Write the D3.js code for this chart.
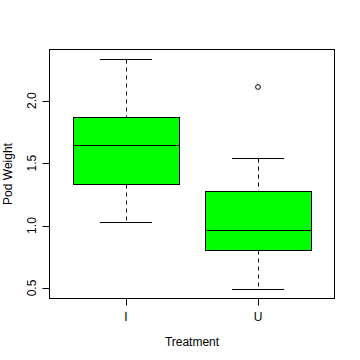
<!DOCTYPE html>
<html><head><meta charset="utf-8">
<script src="https://cdn.jsdelivr.net/npm/d3@7"></script>
<style>body{margin:0;background:#fff}svg{display:block}text{font-family:"Liberation Sans",Arial,sans-serif;font-size:12px;fill:#000}</style>
</head><body>
<script>
const categories = ["I", "U"];
const lowerWhisker = [1.026, 0.490];
const q1 = [1.329, 0.802];
const median = [1.641, 0.962];
const q3 = [1.872, 1.273];
const upperWhisker = [2.335, 1.537];
const outliers = [[], [2.109]];
const yTicks = [0.5, 1.0, 1.5, 2.0];
const yTickLabels = ["0.5", "1.0", "1.5", "2.0"];

const W = 360, H = 360;
const L = 49.5, R = 334.5, T = 49.5, B = 298.5;
const svg = d3.select("body").append("svg").attr("width", W).attr("height", H);

const x = d3.scaleLinear().domain([0.42, 2.58]).range([L, R]);
const y = d3.scaleLinear().domain([0.416, 2.409]).range([B, T]);

const g = svg.append("g");
categories.forEach((c, i) => {
  const cx = x(i + 1);
  const bl = x(i + 1 - 0.4), br = x(i + 1 + 0.4);
  const wl = x(i + 1 - 0.2), wr = x(i + 1 + 0.2);
  const r = v => Math.round(y(v)) + 0.5;
  const cxr = Math.round(cx) + 0.5;
  // whiskers dashed
  g.append("line").attr("x1", cxr).attr("x2", cxr).attr("y1", r(upperWhisker[i])).attr("y2", r(q3[i]))
    .attr("stroke", "#000").attr("stroke-dasharray", "4,4");
  g.append("line").attr("x1", cxr).attr("x2", cxr).attr("y1", r(q1[i])).attr("y2", r(lowerWhisker[i]))
    .attr("stroke", "#000").attr("stroke-dasharray", "4,4");
  // caps
  [upperWhisker[i], lowerWhisker[i]].forEach(v => {
    g.append("line").attr("x1", Math.round(wl)).attr("x2", Math.round(wr)).attr("y1", r(v)).attr("y2", r(v)).attr("stroke", "#000");
  });
  // box
  g.append("rect").attr("x", Math.round(bl) + 0.5).attr("y", r(q3[i]))
    .attr("width", Math.round(br) - Math.round(bl)).attr("height", r(q1[i]) - r(q3[i]))
    .attr("fill", "#00ff00").attr("stroke", "#000");
  g.append("line").attr("x1", Math.round(bl)).attr("x2", Math.round(br) + 1).attr("y1", r(median[i])).attr("y2", r(median[i])).attr("stroke", "#000");
  outliers[i].forEach(v => {
    g.append("circle").attr("cx", cx).attr("cy", y(v)).attr("r", 2.4).attr("fill", "none").attr("stroke", "#000");
  });
});

// frame
svg.append("rect").attr("x", L).attr("y", T).attr("width", R - L).attr("height", B - T)
  .attr("fill", "none").attr("stroke", "#000");

// y axis
const ya = svg.append("g");
yTicks.forEach((v, i) => {
  const yy = Math.round(y(v)) + 0.5;
  ya.append("line").attr("x1", L - 7).attr("x2", L).attr("y1", yy).attr("y2", yy).attr("stroke", "#000");
  ya.append("text").attr("transform", `translate(36,${y(v)}) rotate(-90)`).attr("text-anchor", "middle").text(yTickLabels[i]);
});
// x axis
categories.forEach((c, i) => {
  const xx = Math.round(x(i + 1)) + 0.5;
  svg.append("line").attr("x1", xx).attr("x2", xx).attr("y1", B).attr("y2", B + 7).attr("stroke", "#000");
  svg.append("text").attr("x", x(i + 1)).attr("y", 320.5).attr("text-anchor", "middle").text(c);
});
svg.append("text").attr("x", (L + R) / 2).attr("y", 345.5).attr("text-anchor", "middle").text("Treatment");
svg.append("text").attr("transform", `translate(12,${(T + B) / 2}) rotate(-90)`).attr("text-anchor", "middle").text("Pod Weight");
</script>
</body></html>
